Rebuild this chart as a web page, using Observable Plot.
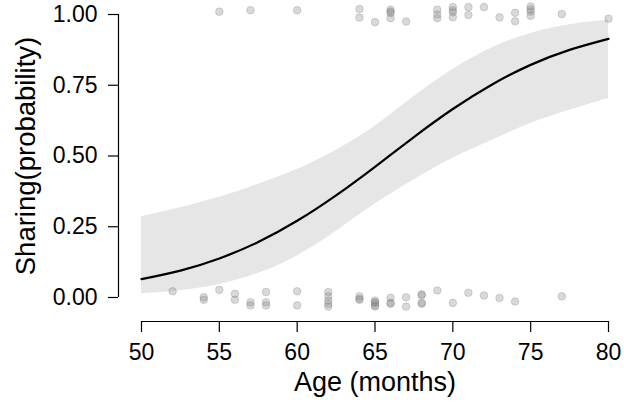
<!DOCTYPE html>
<html>
<head>
<meta charset="utf-8">
<script src="https://cdn.jsdelivr.net/npm/d3@7"></script>
<script src="https://cdn.jsdelivr.net/npm/@observablehq/plot@0.6"></script>
<style>
  html, body { margin: 0; padding: 0; background: #fff; }
</style>
</head>
<body>
<div id="chart"></div>
<script>
// Fitted logistic curve and 95% band
const curveAge  = [50, 52.5, 55, 57.5, 60, 62.5, 65, 67.5, 70, 72.5, 75, 77.5, 80];
const fitProb   = [0.065, 0.095, 0.138, 0.196, 0.271, 0.361, 0.462, 0.567, 0.666, 0.752, 0.822, 0.875, 0.914];
const lowerProb = [0.013, 0.024, 0.046, 0.085, 0.147, 0.233, 0.330, 0.415, 0.492, 0.555, 0.615, 0.662, 0.703];
const upperProb = [0.285, 0.317, 0.354, 0.400, 0.452, 0.520, 0.605, 0.710, 0.806, 0.882, 0.933, 0.964, 0.981];

// Observed (jittered) responses
const pointAge = [
  55, 57, 60, 64, 64, 65, 66, 66, 66, 66, 67, 69, 69, 69, 70, 70, 70, 70, 71, 71, 72, 73, 74, 74, 75, 75, 75, 75, 77, 80,
  52, 54, 54, 55, 56, 56, 57, 57, 58, 58, 58, 60, 60, 62, 62, 62, 62, 62, 64, 64, 64,
  65, 65, 65, 65, 65, 66, 66, 66, 67, 67, 68, 68, 68, 68, 69, 70, 71, 72, 73, 74, 77
];
const pointY = [
  1.010, 1.015, 1.015, 1.019, 0.989, 0.973, 1.017, 1.010, 1.005, 0.987, 0.975, 1.017, 1.000, 0.987,
  1.026, 1.015, 1.008, 0.990, 1.026, 0.998, 1.026, 0.990, 1.006, 0.976, 1.028, 1.018, 1.010, 0.996, 1.002, 0.985,
  0.022, 0.001, -0.008, 0.027, 0.013, -0.008, -0.017, -0.028, 0.019, -0.017, -0.028, 0.022, -0.028,
  0.019, 0.004, -0.011, -0.022, -0.032, 0.004, -0.005, -0.008,
  -0.011, -0.017, -0.019, -0.028, -0.032, -0.001, -0.019, -0.022, 0.001, -0.032, 0.011, 0.008, -0.019, -0.022,
  0.025, -0.019, 0.017, 0.007, -0.002, -0.014, 0.004
];

const xTicks = [50, 55, 60, 65, 70, 75, 80];
const yTicks = [0, 0.25, 0.5, 0.75, 1];

const curve = curveAge.map((a, i) => ({age: a, fit: fitProb[i], lo: lowerProb[i], hi: upperProb[i]}));
const points = pointAge.map((a, i) => ({age: a, y: pointY[i]}));

const font = "Liberation Sans, Arial, Helvetica, sans-serif";

const chart = Plot.plot({
  width: 624,
  height: 411,
  marginLeft: 141,
  marginRight: 16,
  marginTop: 14,
  marginBottom: 114,
  style: {fontFamily: font, background: "#fff", color: "#000"},
  x: {domain: [50, 80]},
  y: {domain: [0, 1]},
  marks: [
    Plot.areaY(curve, {x: "age", y1: "lo", y2: "hi", fill: "#e6e6e6", curve: "natural"}),
    Plot.line(curve, {x: "age", y: "fit", stroke: "#000", strokeWidth: 2.2, curve: "natural"}),
    Plot.dot(points, {x: "age", y: "y", r: 3.8, fill: "#808080", fillOpacity: 0.3, stroke: "#808080", strokeOpacity: 0.3, strokeWidth: 1}),
    // x axis
    Plot.ruleY([0], {x1: 50, x2: 80, dy: 24, stroke: "#000", strokeWidth: 1.2}),
    Plot.axisX({ticks: xTicks, tickSize: 11, tickPadding: 11, dy: 24, fontSize: 23, label: null, stroke: "#000", strokeWidth: 1.2}),
    // y axis
    Plot.ruleX([50], {y1: 0, y2: 1, dx: -23, stroke: "#000", strokeWidth: 1.2}),
    Plot.axisY({ticks: yTicks, tickFormat: d3.format(".2f"), tickSize: 10, tickPadding: 11, dx: -23, fontSize: 23, label: null, stroke: "#000", strokeWidth: 1.2}),
    // titles
    Plot.text(["Age (months)"], {frameAnchor: "bottom", dy: 93, fontSize: 27, fill: "#000"}),
    Plot.text(["Sharing(probability)"], {frameAnchor: "left", textAnchor: "middle", rotate: -90, dx: -115, fontSize: 27.5, fill: "#000"})
  ]
});

document.getElementById("chart").appendChild(chart);
</script>
</body>
</html>
